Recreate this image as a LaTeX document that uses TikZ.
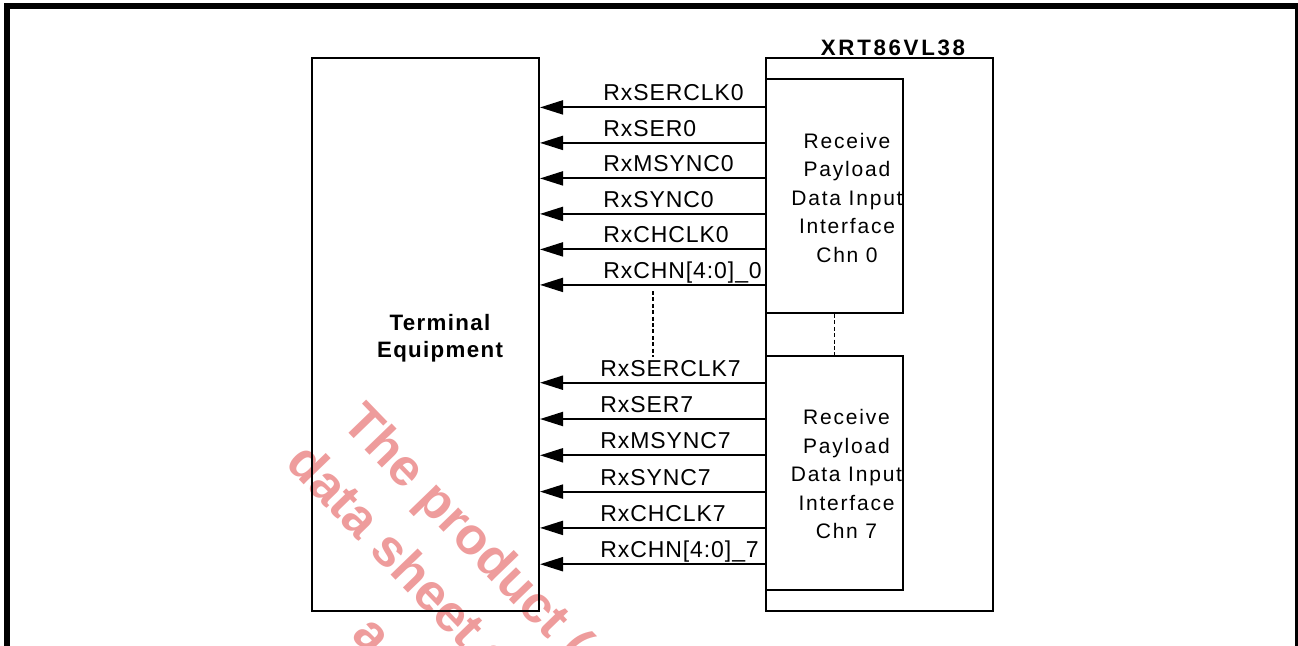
\documentclass[tikz,border=0pt]{standalone}
\usepackage{fontspec}
\usepackage{tikz}
\usetikzlibrary{positioning, arrows.meta, calc}
\setmainfont{Liberation Sans}
\newfontfamily\sigfont{Liberation Sans}[LetterSpace=4]
\newfontfamily\boxfont{Liberation Sans}[LetterSpace=8.5]
\newfontfamily\chipfont{Liberation Sans}[LetterSpace=12]
\newfontfamily\termfont{Liberation Sans}[LetterSpace=6]
\definecolor{WaterRed}{HTML}{EE9C9C}

\begin{document}
\begin{tikzpicture}[
    x=0.5pt, y=-0.5pt,
    blk/.style={rectangle, draw, line width=1pt, minimum width=113.5pt, minimum height=276.5pt},
    chn/.style={rectangle, draw, line width=1pt, fill=white, minimum width=68.5pt, minimum height=117pt},
    sig/.style={-{Triangle[length=11.5pt, width=7pt]}, line width=1pt},
    siglbl/.style={anchor=base west, inner sep=0pt, font=\sigfont\fontsize{11.5pt}{13pt}\selectfont},
    chtxt/.style={align=center, inner sep=0pt, font=\boxfont\fontsize{10.5pt}{14.25pt}\selectfont},
    gapline/.style={line width=0.7pt, dash pattern=on 2pt off 1.2pt},
    wm/.style={anchor=base west, rotate=-46, inner sep=0pt, text=WaterRed,
               font=\bfseries\fontsize{26pt}{30pt}\selectfont}
]
  \useasboundingbox (0,0) rectangle (1298,645);

  % watermark
  \node[wm] (wm1) at (340,424) {The product (};
  \node[wm] (wm2) at (284,464) {data sheet a};
  \node[wm] (wm3) at (350,636) {a};

  % frame
  \draw[line width=3pt] (7,660) -- (7,6) -- (1298,6) -- (1298,660);

  \node[blk] (term) at (425.5,334.5) {};
  \node[align=center, inner sep=0pt, font=\termfont\bfseries\fontsize{11.15pt}{13.35pt}\selectfont]
    (termtxt) at (440,338) {Terminal\\Equipment};

  \node[blk] (xrt) at (879.5,334.5) {};
  \node[font=\chipfont\bfseries\fontsize{11.15pt}{13pt}\selectfont, inner sep=0pt] (xrttitle) at (893,48) {XRT86VL38};

  \node[chn] (rx0) at (834.5,196) {};
  \node[chtxt] (rx0txt) at (847,197.5) {Receive\\Payload\\Data Input\\Interface\\Chn 0};
  \node[chn] (rx7) at (834.5,473) {};
  \node[chtxt] (rx7txt) at (846.5,474) {Receive\\Payload\\Data Input\\Interface\\Chn 7};

  % channel 0 signals
  \foreach \sig [count=\i from 0] in {RxSERCLK0, RxSER0, RxMSYNC0, RxSYNC0, RxCHCLK0, {RxCHN[4:0]\_0}} {
    \coordinate (p0\i) at ($(rx0.north west)+(0,{29.4+35.5*\i})$);
    \draw[sig] (p0\i) -- (term.east |- p0\i);
    \node[siglbl] (l0\i) at ($(term.east |- p0\i)+(63,-6.5)$) {\sig};
  }
  % channel 7 signals
  \foreach \sig [count=\i from 0] in {RxSERCLK7, RxSER7, RxMSYNC7, RxSYNC7, RxCHCLK7, {RxCHN[4:0]\_7}} {
    \coordinate (p7\i) at ($(rx7.north west)+(0,{27.7+36.3*\i})$);
    \draw[sig] (p7\i) -- (term.east |- p7\i);
    \node[siglbl] (l7\i) at ($(term.east |- p7\i)+(60,-6.5)$) {\sig};
  }

  \coordinate (dots0) at (653,291);
  \coordinate (dots7) at (653,357);
  \draw[gapline] (dots0) -- (dots7);
  \draw[gapline] (rx0.south) -- (rx7.north);
\end{tikzpicture}
\end{document}
